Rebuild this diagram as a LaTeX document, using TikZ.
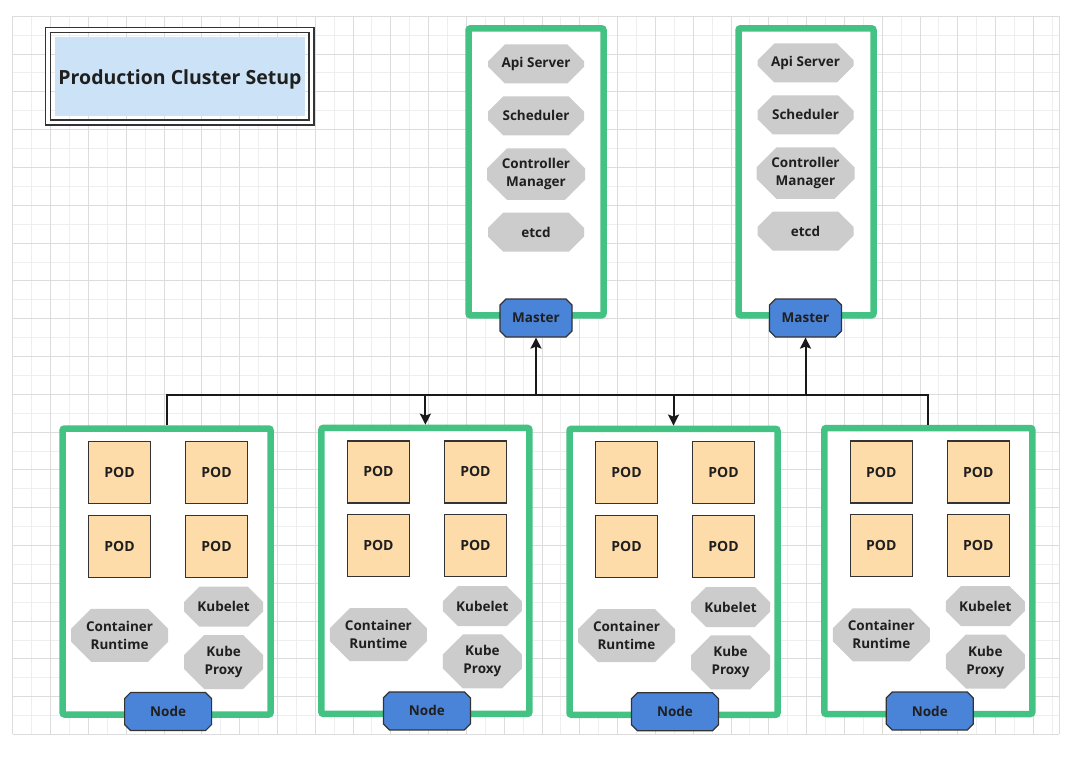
\documentclass[tikz,border=0pt]{standalone}
\usepackage{fontspec}
\setmainfont{Open Sans}
\usetikzlibrary{arrows.meta}
\usetikzlibrary{shapes.misc}
\usetikzlibrary{positioning}
\definecolor{kgreen}{HTML}{44C283}
\definecolor{kgray}{HTML}{CCCCCC}
\definecolor{kpeach}{HTML}{FDDCAA}
\definecolor{kblue}{HTML}{4A84D9}
\definecolor{tblue}{HTML}{CCE3F7}
\definecolor{kdark}{HTML}{333333}
\definecolor{gmajor}{HTML}{DCDCDC}
\definecolor{gminor}{HTML}{EEEEEE}

\begin{document}
\begin{tikzpicture}[x=1pt,y=-1pt,>={Stealth[length=11pt,width=11pt,inset=2pt]},node distance=12.5pt,font=\bfseries\fontsize{13.5}{18}\selectfont,text=black!88]
 \tikzstyle{box}=[draw=kgreen, line width=6.5pt, rounded corners=2pt, fill=white, minimum width=208, minimum height=286]
 \tikzstyle{mbox}=[box, minimum width=135, minimum height=287]
 \tikzstyle{pod}=[draw=kdark, line width=1.2pt, fill=kpeach, minimum size=62, inner sep=0pt, font=\bfseries\fontsize{14}{18}\selectfont]
 \tikzstyle{comp}=[chamfered rectangle, chamfered rectangle sep=10pt, fill=kgray, inner sep=0pt, align=center, minimum height=39]
 \tikzstyle{lbl}=[chamfered rectangle, chamfered rectangle sep=3pt, draw=kdark, line width=1.2pt, fill=kblue, inner sep=0pt, minimum height=38]
 \tikzstyle{conn}=[draw=black!90, line width=2pt]
 \useasboundingbox (0,0) rectangle (1079,757);
 % background grid
 \foreach \i in {0,...,27} \draw[gminor] ({31.4+37.8*\i},16) -- ({31.4+37.8*\i},734);
 \foreach \i in {0,...,18} \draw[gminor] (12.5,{34.9+37.8*\i}) -- (1059,{34.9+37.8*\i});
 \foreach \i in {0,...,27} \draw[gmajor] ({12.5+37.8*\i},16) -- ({12.5+37.8*\i},734);
 \foreach \i in {0,...,19} \draw[gmajor] (12.5,{16+37.8*\i}) -- (1059,{16+37.8*\i});
 \draw[gmajor] (1059,16) -- (1059,734);

 % title
 \node[draw=kdark, line width=1.3pt, double=white, double distance=3.7pt, minimum width=263.75, minimum height=92.5] (T) at (179.75,76.25) {};
 \node[fill=tblue, minimum width=250, minimum height=79] (TF) at (180,76.5) {};
 \node[font=\bfseries\fontsize{19.5}{23}\selectfont] (TT) at (180,79) {Production Cluster Setup};

 % masters
 \node[mbox] (M1) at (536,171.8) {};
 \node[comp, minimum width=96] (A1) at (536,64) {Api Server};
 \node[comp, minimum width=96] (S1) [below=of A1] {Scheduler};
 \node[comp, minimum width=98, minimum height=51] (C1) [below=of S1] {Controller\\Manager};
 \node[comp, minimum width=96] (E1) [below=of C1] {etcd};
 \node[lbl, minimum width=72] (ML1) at (536,318) {Master};

 \node[mbox] (M2) at (806,171.8) {};
 \node[comp, minimum width=96] (A2) at (805.5,63) {Api Server};
 \node[comp, minimum width=96] (S2) [below=of A2] {Scheduler};
 \node[comp, minimum width=98, minimum height=51] (C2) [below=of S2] {Controller\\Manager};
 \node[comp, minimum width=96] (E2) [below=of C2] {etcd};
 \node[lbl, minimum width=72] (ML2) at (805.5,318) {Master};

 % worker nodes
 \foreach \n/\x/\y in {1/166.6/571.5, 2/425.4/570.9, 3/673.5/571.8, 4/928.3/571}
 {
  \node[box] (N\n) at (\x,\y) {};
  \node[pod] (P\n a) at ({\x-47},{\y-99}) {POD};
  \node[pod] (P\n b) at ({\x+50},{\y-99}) {POD};
  \node[pod] (P\n c) at ({\x-47},{\y-25.2}) {POD};
  \node[pod] (P\n d) at ({\x+50},{\y-25.2}) {POD};
  \node[comp, minimum width=97, minimum height=53] (CR\n) at ({\x-47},{\y+63.8}) {Container\\Runtime};
  \node[comp, minimum width=79, minimum height=40] (K\n) at ({\x+57},{\y+35.2}) {Kubelet};
  \node[comp, minimum width=79, minimum height=54] (KP\n) at ({\x+57},{\y+90.5}) {Kube\\Proxy};
  \node[lbl, minimum width=87] (NL\n) at ({\x+1.5},{\y+140}) {Node};
 }

 % connectors
 \coordinate (J1) at (536,395);
 \coordinate (J2) at (805.5,395);
 \draw[conn,->] (N1.north) |- (J1) -- (ML1.south);
 \draw[conn,->] (J1) -| (N2.north);
 \draw[conn] (J1) -- (J2);
 \draw[conn,->] (J2) -| (N3.north);
 \draw[conn,->] (N4.north) |- (J2) -- (ML2.south);
\end{tikzpicture}
\end{document}
